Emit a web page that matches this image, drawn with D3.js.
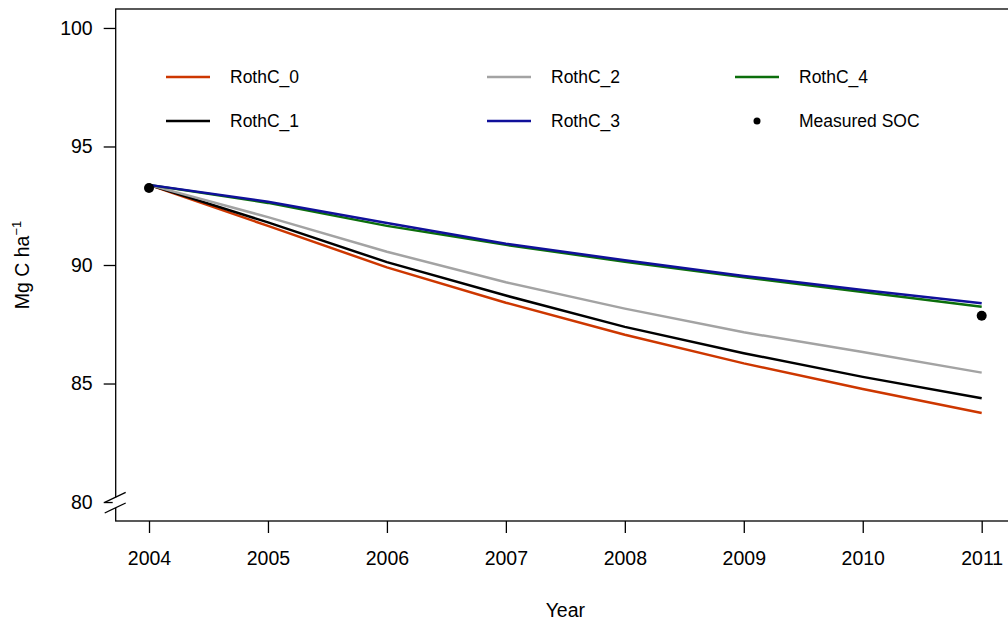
<!DOCTYPE html>
<html>
<head>
<meta charset="utf-8">
<script src="https://cdn.jsdelivr.net/npm/d3@7"></script>
<style>
body{margin:0;background:#fff;}
text{font-family:"Liberation Sans",Arial,Helvetica,sans-serif;fill:#000;}
</style>
</head>
<body>
<script>
var years = [2004,2005,2006,2007,2008,2009,2010,2011];
var seriesNames = ['RothC_0','RothC_1','RothC_2','RothC_3','RothC_4'];
var seriesColors = ['#CD3700','#000000','#A3A3A3','#10109A','#0B6E0B'];
var rothc0 = [93.38,91.65,89.90,88.41,87.06,85.85,84.77,83.76];
var rothc1 = [93.38,91.80,90.12,88.71,87.39,86.28,85.28,84.38];
var rothc2 = [93.38,92.02,90.56,89.27,88.16,87.16,86.33,85.46];
var rothc3 = [93.38,92.67,91.77,90.90,90.20,89.54,88.95,88.39];
var rothc4 = [93.38,92.62,91.65,90.85,90.14,89.48,88.86,88.24];
var measuredYears = [2004,2011];
var measuredSOC = [93.25,87.86];
var yTicks = [80,85,90,95,100];

var W = 1008, H = 625;
var axisFont = '19.5px';
var svg = d3.select('body').append('svg').attr('width',W).attr('height',H);

//R style 4% padding on both scales
var xScale = d3.scaleLinear().domain([2004-0.28,2011+0.28]).range([115.7,1015]);
var yScale = d3.scaleLinear().domain([80-0.8,100+0.8]).range([521,9]);

//Box
svg.append('rect')
	.attr('x',xScale.range()[0]).attr('y',yScale.range()[1])
	.attr('width',xScale.range()[1]-xScale.range()[0])
	.attr('height',yScale.range()[0]-yScale.range()[1])
	.attr('fill','none').attr('stroke','#000').attr('stroke-width',1.3);

//Axes
var xAxis = d3.axisBottom(xScale).tickValues(years).tickFormat(d3.format('d')).tickSizeOuter(0).tickSizeInner(12).tickPadding(18);
var xAxisG = svg.append('g').attr('transform','translate(0,'+yScale.range()[0]+')').call(xAxis);
var yAxis = d3.axisLeft(yScale).tickValues(yTicks).tickSizeOuter(0).tickSizeInner(12).tickPadding(11);
var yAxisG = svg.append('g').attr('transform','translate('+xScale.range()[0]+',0)').call(yAxis);
[xAxisG,yAxisG].forEach(function(g){
	g.select('.domain').remove();
	g.selectAll('line').attr('stroke','#000').attr('stroke-width',1.3);
	g.selectAll('text').style('font-size',axisFont).style('font-family','"Liberation Sans",Arial,sans-serif');
});

//Axis break on y
var x0 = xScale.range()[0];
svg.append('rect').attr('x',x0-3).attr('y',yScale(80.2)).attr('width',6).attr('height',yScale(79.75)-yScale(80.2)).attr('fill','#fff');
[80.2,79.75].forEach(function(v){
	svg.append('line')
		.attr('x1',x0-11).attr('y1',yScale(v)+5)
		.attr('x2',x0+10).attr('y2',yScale(v)-5)
		.attr('stroke','#000').attr('stroke-width',1.3);
});

//Axis titles
svg.append('text').attr('x',(xScale.range()[0]+xScale.range()[1])/2).attr('y',617)
	.attr('text-anchor','middle').style('font-size',axisFont).text('Year');
var yLab = svg.append('text').attr('transform','translate(29,'+((yScale.range()[0]+yScale.range()[1])/2)+') rotate(-90)')
	.attr('text-anchor','middle').style('font-size',axisFont);
yLab.append('tspan').text('Mg C ha');
yLab.append('tspan').attr('dy',-8).style('font-size','13px').text('\u22121');

//Lines
var allSeries = [rothc0,rothc1,rothc2,rothc3,rothc4];
var line = d3.line().x(function(d,i){return xScale(years[i]);}).y(function(d){return yScale(d);});
var drawOrder = [0,1,2,4,3];
drawOrder.forEach(function(k){
	svg.append('path').datum(allSeries[k]).attr('d',line)
		.attr('fill','none').attr('stroke',seriesColors[k]).attr('stroke-width',2.5);
});

//Measured points
svg.selectAll('circle.meas').data(measuredSOC).enter().append('circle').attr('class','meas')
	.attr('cx',function(d,i){return xScale(measuredYears[i]);})
	.attr('cy',function(d){return yScale(d);})
	.attr('r',5).attr('fill','#000');

//Legend
var legendItems = [
	{name:'RothC_0',color:seriesColors[0],type:'line',col:0,row:0},
	{name:'RothC_1',color:seriesColors[1],type:'line',col:0,row:1},
	{name:'RothC_2',color:seriesColors[2],type:'line',col:1,row:0},
	{name:'RothC_3',color:seriesColors[3],type:'line',col:1,row:1},
	{name:'RothC_4',color:seriesColors[4],type:'line',col:2,row:0},
	{name:'Measured SOC',color:'#000',type:'point',col:2,row:1}
];
var colX = [166,487,735];
var rowY = [77,121];
var legendG = svg.append('g');
legendItems.forEach(function(d){
	var lx = colX[d.col], ly = rowY[d.row];
	if (d.type == 'line')
		legendG.append('line').attr('x1',lx).attr('x2',lx+44).attr('y1',ly).attr('y2',ly)
			.attr('stroke',d.color).attr('stroke-width',2.5);
	else
		legendG.append('circle').attr('cx',lx+22).attr('cy',ly).attr('r',3.5).attr('fill',d.color);
	legendG.append('text').attr('x',lx+64).attr('y',ly+6).style('font-size','17.5px').text(d.name);
});
</script>
</body>
</html>
